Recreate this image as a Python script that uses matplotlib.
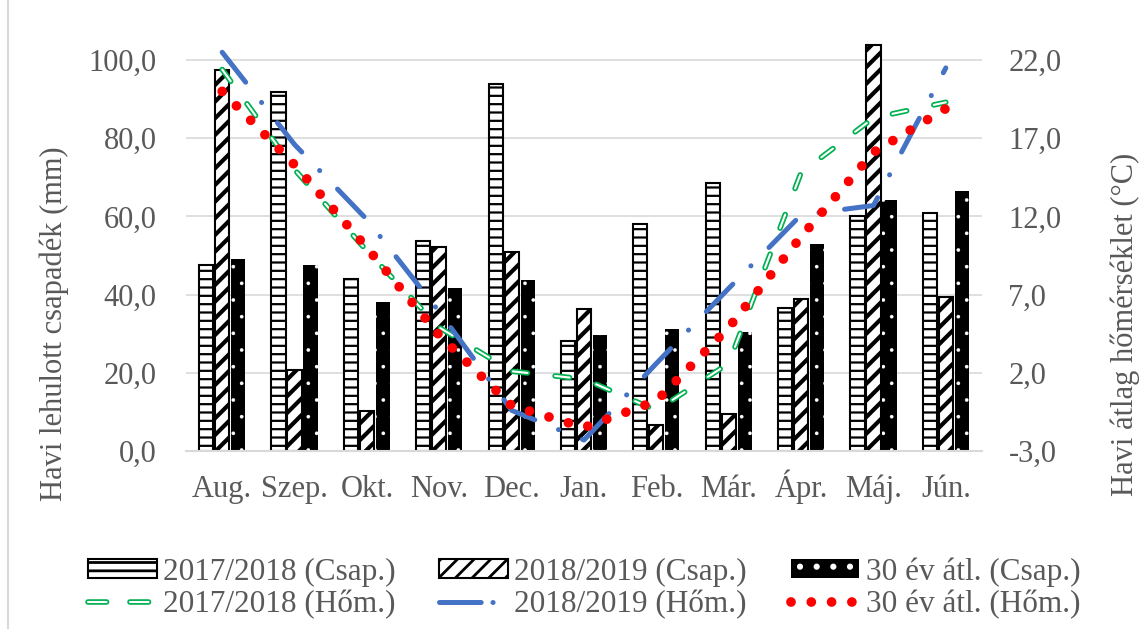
import numpy as np
import matplotlib
matplotlib.use('Agg')
import matplotlib.pyplot as plt
from matplotlib.ticker import FuncFormatter
from matplotlib.lines import Line2D

# Données
honapok = ['Aug.', 'Szep.', 'Okt.', 'Nov.', 'Dec.', 'Jan.', 'Feb.', 'Már.', 'Ápr.', 'Máj.', 'Jún.']

csap_2017 = [47.5, 91.8, 44.0, 53.8, 93.8, 28.2, 58.0, 68.5, 36.7, 60.2, 60.9]
csap_2018 = [97.5, 20.6, 10.2, 52.1, 50.9, 36.2, 6.7, 9.5, 38.8, 103.8, 39.5]
csap_30ev = [49.0, 47.6, 38.0, 41.8, 43.7, 29.7, 31.1, 30.4, 52.9, 64.1, 66.6]

hom_2017 = [21.4, 15.0, 9.8, 4.9, 2.1, 1.6, -0.4, 2.6, 14.8, 18.3, 19.3]
hom_2018 = [22.5, 16.6, 11.8, 5.9, -0.4, -2.3, 2.6, 7.4, 12.1, 12.7, 21.5]
hom_30ev = [20.0, 15.3, 10.0, 4.4, -0.1, -1.5, 0.2, 4.9, 10.7, 16.1, 18.9]

szurke = '#595959'
zold = '#00B050'
kek = '#4472C4'
piros = '#FF0000'
plt.rcParams['font.family'] = ['Liberation Serif', 'DejaVu Serif']
plt.rcParams['hatch.linewidth'] = 2.0
plt.rcParams['lines.scale_dashes'] = False

fig = plt.figure(figsize=(11.41, 6.29), dpi=100)
ax = fig.add_axes([186 / 1141, 1 - 451 / 629, 796 / 1141, 430 / 629])
ax2 = ax.twinx()

x = np.arange(len(honapok))
w = 0.197
off = 0.221

# Csapadék oszlopok
b1 = ax.bar(x - off, csap_2017, w, facecolor='white', edgecolor='black',
            linewidth=1.5, hatch='--')
b2 = ax.bar(x, csap_2018, w, facecolor='white', edgecolor='black',
            linewidth=1.5, hatch='//')
b3 = ax.bar(x + off, csap_30ev, w, facecolor='black', edgecolor='white',
            linewidth=0, hatch='.')

# épaisseur des hachures par série, si la version le permet
for cont, hw in ((b1, 1.6), (b2, 3.0), (b3, 0.2)):
    for p in cont:
        if hasattr(p, 'set_hatch_linewidth'):
            p.set_hatch_linewidth(hw)

# Hőmérséklet vonalak
g1, = ax2.plot(x, hom_2017, color=zold, lw=4.0, dashes=(10.5, 20),
               dash_capstyle='round', dash_joinstyle='round')
g2, = ax2.plot(x, hom_2017, color='white', lw=1.5, dashes=(10.5, 20),
               dash_capstyle='round', dash_joinstyle='round')
l2, = ax2.plot(x, hom_2018, color=kek, lw=3.6,
               dashes=(27.4, 18.5, 0.1, 18.5),
               dash_capstyle='round', dash_joinstyle='round')
l3, = ax2.plot(x, hom_30ev, color=piros, lw=7.0, dashes=(0.01, 14.6),
               dash_capstyle='round')

# Tengelyek
fmt = FuncFormatter(lambda v, p: f'{v:.1f}'.replace('.', ','))
ax.set_xlim(-0.5, 10.5)
ax.set_ylim(0, 110)
ax.set_yticks(np.arange(0, 101, 20))
ax.yaxis.set_major_formatter(fmt)
ax2.set_ylim(-3, 24.5)
ax2.set_yticks(np.arange(-3, 23, 5))
ax2.yaxis.set_major_formatter(fmt)
ax.set_xticks(x)
ax.set_xticklabels(honapok, va='baseline')

ax.set_axisbelow(True)
ax.grid(axis='y', color='#D9D9D9', lw=1.2)
for a in (ax, ax2):
    for s in a.spines.values():
        s.set_visible(False)
ax.spines['bottom'].set_visible(True)
ax.spines['bottom'].set_color('#D9D9D9')
ax.spines['bottom'].set_linewidth(1.5)

ax.tick_params(axis='y', length=0, pad=21, labelsize=22, labelcolor=szurke)
ax.tick_params(axis='x', length=0, pad=33, labelsize=22, labelcolor=szurke)
ax2.tick_params(axis='y', length=0, pad=19, labelsize=22, labelcolor=szurke)

fig.text(54 / 1141, 1 - 324 / 629, 'Havi lehulott csapadék (mm)', rotation=90,
         ha='center', va='center', fontsize=22, color=szurke)
fig.text(1125 / 1141, 1 - 324 / 629, 'Havi átlag hőmérséklet (°C)', rotation=90,
         ha='center', va='center', fontsize=22, color=szurke)

# Jelmagyarázat (proxy vonalak a rövidebb mintához)
lg1 = Line2D([], [], color=zold, lw=4.0, dashes=(13.4, 16.8), dash_capstyle='round')
lg2 = Line2D([], [], color='white', lw=1.5, dashes=(13.4, 16.8), dash_capstyle='round')
lb = Line2D([], [], color=kek, lw=3.6, dashes=(30, 8.5, 0.1, 30), dash_capstyle='round')
lr = Line2D([], [], color=piros, lw=7.0, dashes=(0.01, 14.6), dash_capstyle='round')

handles = [b1, (lg1, lg2), b2, lb, b3, lr]
labels = ['2017/2018 (Csap.)', '2017/2018 (Hőm.)', '2018/2019 (Csap.)',
          '2018/2019 (Hőm.)', '30 év átl. (Csap.)', '30 év átl. (Hőm.)']
leg = fig.legend(handles, labels, ncol=3, loc='center',
                 bbox_to_anchor=(584 / 1141, 1 - 588 / 629), frameon=False,
                 fontsize=22.5, handlelength=2.2, handleheight=0.58,
                 handletextpad=0.2, columnspacing=1.4, labelspacing=0.1)
for t in leg.get_texts():
    t.set_color(szurke)

# Külső keret (bal szél)
fig.add_artist(Line2D([8 / 1141, 8 / 1141], [0, 1], color='#D9D9D9', lw=1.5,
                      transform=fig.transFigure))

fig.savefig('out.png', dpi=100)
